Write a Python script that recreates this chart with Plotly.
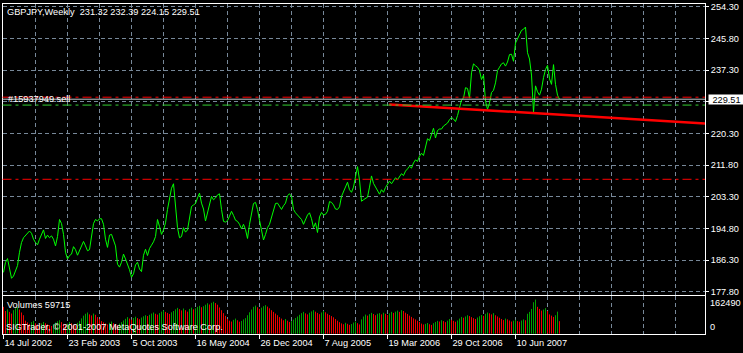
import plotly.graph_objects as go
import pandas as pd

# ---------------- data ----------------
symbol = "GBPJPY,Weekly"
last_ohlc = [231.32, 232.39, 224.15, 229.51]
start_date = "2002-07-14"

# weekly closes (one per week from 14 Jul 2002)
close = [
    183.0, 185.7, 186.7, 183.9, 181.4, 182.0, 183.2, 184.8, 188.4, 191.0,
    192.3, 193.0, 193.7, 194.1, 193.5, 191.9, 191.0, 190.4, 191.9, 193.2,
    194.4, 192.1, 193.0, 192.3, 192.8, 191.9, 190.1, 192.6, 197.2, 196.1,
    193.2, 188.4, 186.6, 187.5, 187.9, 189.9, 189.1, 187.6, 188.8, 189.7,
    191.3, 190.1, 188.8, 189.1, 192.6, 196.1, 197.2, 196.8, 197.4, 197.4,
    195.9, 191.9, 189.7, 193.0, 193.2, 191.4, 190.1, 185.2, 184.4, 185.7,
    187.9, 186.6, 185.2, 183.7, 181.7, 182.6, 185.0, 185.7, 183.9, 183.2,
    187.6, 189.2, 187.5, 189.4, 190.3, 191.2, 192.6, 197.2, 195.3, 193.2,
    194.4, 196.3, 199.9, 203.4, 205.6, 206.8, 199.9, 195.0, 192.3, 192.6,
    195.0, 193.8, 194.4, 197.6, 200.7, 201.1, 201.5, 203.0, 204.3, 201.6,
    200.0, 196.8, 199.0, 201.6, 203.4, 202.5, 203.0, 203.8, 204.1, 199.9,
    196.7, 196.5, 196.9, 198.1, 199.4, 198.3, 197.0, 196.7, 195.9, 194.7,
    195.9, 194.5, 192.1, 195.9, 198.5, 201.5, 201.8, 199.9, 197.0, 194.1,
    191.7, 193.2, 195.0, 195.9, 197.6, 199.4, 201.5, 201.6, 200.6, 199.9,
    200.9, 201.6, 203.6, 204.1, 203.4, 199.9, 199.0, 198.4, 197.6, 197.2,
    195.9, 197.2, 198.4, 199.0, 197.4, 195.0, 196.3, 193.7, 197.9, 199.1,
    198.4, 198.6, 199.4, 202.0, 201.8, 201.1, 200.0, 199.9, 200.6, 203.4,
    204.7, 206.1, 207.2, 205.2, 204.5, 205.9, 208.9, 211.4, 207.8, 202.1,
    202.5, 202.9, 203.2, 205.9, 208.9, 206.9, 205.9, 204.7,
    204.0, 205.2, 204.5, 205.8, 206.6, 207.5, 206.8, 207.6, 208.4, 207.9,
    208.8, 209.5, 209.0, 210.2, 210.8, 211.5, 211.0, 212.4, 213.2, 212.8,
    214.2, 215.0, 214.4, 217.0,
    218.9, 218.4, 220.0, 221.7, 219.1, 221.1, 221.5, 221.5, 222.3, 222.6,
    223.1, 224.0, 224.6, 224.2, 223.5, 225.1, 227.6,
    229.3, 229.8, 232.6, 232.4, 229.8, 236.6, 239.0, 238.5, 238.1, 237.2,
    234.8, 236.0, 229.0, 226.8, 228.5, 231.3, 231.9, 233.9, 237.2, 238.1,
    239.0, 239.3, 238.4, 239.5, 241.5, 241.6, 239.7, 244.6, 245.9, 247.2,
    248.0, 248.3, 248.9,
    242.0, 240.3, 236.0, 226.0, 233.1, 231.5, 230.6, 232.2, 235.3, 237.5,
    238.6, 235.0, 233.5, 238.8, 233.5, 230.6, 229.51,
]

# weekly tick volumes, in thousands
vol_k = [
    128, 108, 116, 104, 96, 112, 121, 127, 115, 101, 88,
    62, 54, 47, 55, 61, 50, 44, 40, 49, 56,
    50, 44, 41, 37, 46, 53, 59, 64, 55, 47,
    41, 48, 56, 50, 44, 39, 52, 61, 73, 86,
    95, 101, 92, 87, 96, 90, 79, 69,
    60, 54, 49, 44, 52, 58, 50, 45, 41, 48, 55, 63,
    71, 79, 72, 67, 75, 81, 74, 69, 77, 83, 88, 84,
    90, 96, 101, 95, 91, 98, 105, 111, 104, 99, 94, 102, 108, 116, 123, 117, 111, 120,
    112, 105, 118, 124, 116, 121, 128, 133, 126, 131, 138, 145, 139, 147, 152, 146,
    138, 125, 112, 98, 85,
    70, 62, 58, 66, 72, 64, 57, 61, 68, 74,
    88, 102, 115, 128, 134, 126, 118, 124, 131, 136, 129, 121, 112, 104, 96,
    88, 79, 72, 64, 70, 62, 56, 60, 67, 75, 82,
    90, 98, 104, 97, 92, 100, 106, 112, 105, 99, 93, 101, 108, 102, 95, 89, 84, 78,
    70, 62, 55, 49, 45, 52, 47, 42, 46, 53, 58, 50, 44,
    68, 82, 91, 86, 93, 99, 94, 88, 95,
    98, 92, 100, 95, 89, 97, 104, 99,
    105, 110, 104, 112, 108, 100, 94,
    86, 80, 73, 68, 62, 56,
    48, 44, 47, 51, 45, 42, 50,
    56, 61, 58, 64, 60, 55, 62,
    70, 66, 61, 57, 63, 72,
    80, 76, 82, 88, 84, 79, 74, 70, 77, 83, 89, 85,
    95, 101, 97, 92, 98,
    88, 82, 76, 70, 65, 72, 68, 63, 58, 62,
    66, 60, 57, 63, 68, 64,
    95, 104, 118, 150, 162.49,
    128, 118, 110, 115, 122, 108,
    92, 86, 80, 88, 105, 59.715,
]
volume = [int(round(v * 1000)) for v in vol_k]

# price scale
y_tickvals = [177.8, 186.3, 194.8, 203.3, 211.8, 220.3, 228.8, 237.3, 245.8, 254.3]
y_ticktext = ["177.80", "186.30", "194.80", "203.30", "211.80", "220.30", "", "237.30", "245.80", "254.30"]

# order / level lines
order_label = "#15937949 sell"
order_price = 230.05
green_level = 227.93
tp_level = 208.0
bid_price = last_ohlc[3]

# trend line (ray)
trend_dates = ["2006-03-25", "2009-04-04"]
trend_values = [228.1, 223.0]

copyright_text = "SIGTrader, \u00a9 2001-2007 MetaQuotes Software Corp."

# ---------------- figure ----------------
W, H = 743, 353
FONT = "Liberation Sans, Arial, sans-serif"
FS = 9.2
GRID = "#778899"
GDASH = "4px,3px"
WEEK_MS = 7 * 86400000
UP_COL, DOWN_COL = "#00a000", "#f00000"

def fx(p):
    return p / W

def fy(p):
    return 1 - p / H

dates = pd.date_range(start_date, periods=len(close), freq="7D")
label_dates = list(dates[::32])

# volume histogram as 1-px stems, coloured up/down vs previous week
stems = {UP_COL: ([], []), DOWN_COL: ([], [])}
for i, (d, v) in enumerate(zip(dates, volume)):
    col = UP_COL if i > 0 and v > volume[i - 1] else DOWN_COL
    stems[col][0].extend([d, d, None])
    stems[col][1].extend([0, v, None])

fig = go.Figure()
fig.add_trace(go.Scatter(x=dates, y=close, mode="lines",
                         line=dict(color="#00ff00", width=1),
                         xaxis="x", yaxis="y", hoverinfo="skip"))
fig.add_trace(go.Scatter(x=trend_dates, y=trend_values, mode="lines",
                         line=dict(color="#ff0000", width=2.5),
                         xaxis="x", yaxis="y", hoverinfo="skip"))
for col, (sx, sy) in stems.items():
    fig.add_trace(go.Scatter(x=sx, y=sy, mode="lines", line=dict(color=col, width=1),
                             connectgaps=False, xaxis="x2", yaxis="y2", hoverinfo="skip"))

x_range = ["2002-07-10 12:00", "2009-04-03 06:00"]
minor_grid = dict(tickmode="linear", tick0=start_date, dtick=16 * WEEK_MS, showgrid=True,
                  gridcolor=GRID, griddash=GDASH, gridwidth=1, ticks="")
xcommon = dict(
    type="date", range=x_range, domain=[fx(2.5), fx(705)],
    showline=True, mirror=True, linecolor="white", linewidth=1,
    showgrid=True, gridcolor=GRID, griddash=GDASH, gridwidth=1,
    minor=minor_grid, zeroline=False, fixedrange=True,
)

fig.update_layout(
    width=W, height=H, margin=dict(l=0, r=0, t=0, b=0),
    paper_bgcolor="black", plot_bgcolor="black",
    showlegend=False,
    font=dict(family=FONT, size=FS, color="white"),
    xaxis=dict(xcommon, anchor="y", showticklabels=False, ticks="",
               tickmode="linear", tick0=start_date, dtick=32 * WEEK_MS),
    xaxis2=dict(xcommon, anchor="y2", showticklabels=True, ticks="outside",
                tickmode="array", tickvals=label_dates,
                ticklen=4, tickcolor="white", tickwidth=1,
                tickformat="%-d %b %Y", ticklabelposition="outside right",
                tickfont=dict(family=FONT, size=FS, color="white"), matches="x"),
    yaxis=dict(domain=[fy(296), fy(2.5)], range=[177.01, 254.96], side="right",
               anchor="x", tickmode="array", tickvals=y_tickvals, ticktext=y_ticktext,
               ticks="outside", ticklen=3, tickcolor="white",
               showline=True, mirror=True, linecolor="white", linewidth=1,
               showgrid=True, gridcolor=GRID, griddash=GDASH, zeroline=False,
               tickfont=dict(family=FONT, size=FS, color="white"), fixedrange=True),
    yaxis2=dict(domain=[fy(336), fy(297.5)], range=[-2355, 178970], side="right",
                anchor="x2", tickmode="array", tickvals=[0], showticklabels=False,
                ticks="", showline=True, mirror=True, linecolor="white", linewidth=1,
                showgrid=True, gridcolor=GRID, griddash=GDASH, zeroline=False,
                fixedrange=True),
)

# level lines
def hline(level, color, dash, width=1):
    fig.add_shape(type="line", xref="x domain", yref="y", x0=0, x1=1, y0=level, y1=level,
                  line=dict(color=color, width=width, dash=dash), layer="above")

hline(tp_level, "#ff0000", "9px,4px,3px,4px")
hline(green_level, "#32cd32", "9px,4px,3px,4px")
hline(order_price, "#ff0000", "9px,4px,3px,4px")
hline(bid_price, "#c0c4c8", "solid")

def label(text, x, y, xanchor="left", **kw):
    fig.add_annotation(text=text, x=fx(x), y=fy(y), xref="paper", yref="paper",
                       xanchor=xanchor, yanchor="middle", showarrow=False,
                       font=dict(family=FONT, size=FS, color=kw.pop("color", "white")),
                       borderpad=0, **kw)

label(symbol + " \u00a0" + " ".join(f"{v:.2f}" for v in last_ohlc), 6, 10.5)
label(order_label, 7, 98.5)
label("Volumes " + str(volume[-1]), 6, 306.5)
label(copyright_text, 5, 329)
label(str(max(volume)), 709, 304)
label("0", 709, 329)

# current price box on the axis
fig.add_annotation(text=f"{bid_price:.2f}", x=fx(707.5), xref="paper", y=bid_price, yref="y",
                   xanchor="left", yanchor="middle", showarrow=False,
                   font=dict(family=FONT, size=FS, color="black"),
                   bgcolor="white", borderpad=0, width=35, height=9, align="center")

fig.write_html("out.html")
